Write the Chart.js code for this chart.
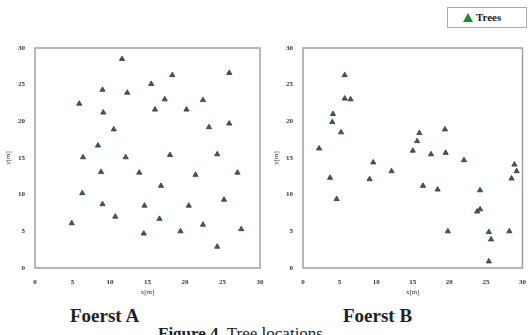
<!DOCTYPE html>
<html>
<head>
<meta charset="utf-8">
<script src="https://cdn.jsdelivr.net/npm/chart.js@4"></script>
<style>
  body { margin: 0; width: 528px; height: 335px; overflow: hidden; background: #fff; position: relative; font-family: "Liberation Serif", serif; }
  .box { position: absolute; }
  #legend { position: absolute; left: 447px; top: 7px; width: 78px; height: 19px; border: 1px solid #aaa; font-weight: bold; font-size: 11px; color: #222; line-height: 19px; }
  #legend .tri { display: inline-block; width: 0; height: 0; border-left: 5px solid transparent; border-right: 5px solid transparent; border-bottom: 9px solid #1f8a2e; margin: 0 3px 0 15px; vertical-align: -1px; }
  .title { position: absolute; font-weight: bold; font-size: 19px; color: #222; }
  #cap { position: absolute; left: 158px; top: 324px; font-size: 17px; color: #222; white-space: nowrap; }
</style>
</head>
<body>
<div id="legend"><span class="tri"></span>Trees</div>
<div class="box" style="left:0;top:40px;width:268px;height:260px"><canvas id="chartA"></canvas></div>
<div class="box" style="left:268px;top:40px;width:260px;height:260px"><canvas id="chartB"></canvas></div>
<div class="title" style="left:70px;top:305px">Foerst A</div>
<div class="title" style="left:343px;top:305px">Foerst B</div>
<div id="cap"><b>Figure 4.</b> Tree locations</div>
<script>
var ticksXY = [0, 5, 10, 15, 20, 25, 30];

var forestAX = [11.6, 18.3, 25.9, 15.5, 9.0, 12.3, 17.3, 22.4, 5.9, 16.0, 20.2, 9.1, 25.9, 23.2, 10.5, 8.4, 6.4, 12.1, 18.0, 24.3, 8.8, 13.9, 21.4, 27.0, 16.8, 6.3, 25.2, 9.0, 14.6, 20.5, 10.7, 16.6, 4.9, 22.4, 27.5, 19.4, 14.5, 24.3];
var forestAY = [28.5, 26.3, 26.6, 25.1, 24.3, 23.9, 23.0, 22.9, 22.4, 21.6, 21.6, 21.2, 19.7, 19.2, 18.9, 16.7, 15.1, 15.1, 15.4, 15.5, 13.1, 13.0, 12.7, 13.0, 11.2, 10.2, 9.3, 8.7, 8.5, 8.5, 7.0, 6.7, 6.1, 5.9, 5.3, 5.0, 4.7, 2.9];

var forestBX = [5.7, 5.7, 6.5, 4.1, 4.0, 5.2, 2.2, 15.9, 15.6, 15.0, 19.4, 19.5, 17.5, 22.0, 9.6, 12.1, 3.7, 9.1, 16.4, 18.4, 4.6, 24.2, 24.2, 23.8, 19.8, 25.4, 25.7, 25.4, 28.2, 28.5, 28.9, 29.2];
var forestBY = [26.3, 23.1, 23.0, 21.0, 19.9, 18.5, 16.3, 18.4, 17.3, 16.0, 18.9, 15.7, 15.5, 14.7, 14.4, 13.2, 12.3, 12.1, 11.2, 10.7, 9.4, 10.6, 8.0, 7.7, 5.0, 4.9, 3.9, 0.9, 5.0, 12.2, 14.1, 13.2];

var frame = {
    id: 'frame',
    afterDraw: function (c) {
        var a = c.chartArea, ctx = c.ctx;
        ctx.save();
        ctx.strokeStyle = '#a0a0a0';
        ctx.lineWidth = 1.5;
        ctx.strokeRect(a.left, a.top, a.right - a.left, a.bottom - a.top);
        ctx.restore();
    }
};

function makeChart(id, xs, ys, rightPad) {
    var pts = xs.map(function (x, i) { return { x: x, y: ys[i] }; });
    var tickFont = { family: 'Liberation Serif', size: 7, weight: 'bold' };
    return new Chart(document.getElementById(id), {
        type: 'scatter',
        data: {
            datasets: [{
                label: 'Trees',
                data: pts,
                pointStyle: 'triangle',
                pointRadius: 3,
                backgroundColor: '#40604a',
                borderColor: '#2b3d30',
                borderWidth: 0.8
            }]
        },
        options: {
            responsive: true,
            maintainAspectRatio: false,
            animation: false,
            layout: { padding: { left: 0, right: rightPad, top: 8, bottom: 0 } },
            plugins: { legend: { display: false }, tooltip: { enabled: false } },
            scales: {
                x: {
                    type: 'linear', min: 0, max: 30,
                    afterBuildTicks: function (s) { s.ticks = ticksXY.map(function (v) { return { value: v }; }); },
                    afterFit: function (s) { s.height = 32; },
                    grid: { display: false },
                    border: { display: false },
                    ticks: { font: tickFont, color: '#333', padding: 2, maxRotation: 0 },
                    title: { display: true, text: 'x[m]', font: { family: 'Liberation Serif', size: 7 }, color: '#333', padding: { top: 4 } }
                },
                y: {
                    type: 'linear', min: 0, max: 30,
                    afterBuildTicks: function (s) { s.ticks = ticksXY.map(function (v) { return { value: v }; }); },
                    afterFit: function (s) { s.width = 35; },
                    grid: { display: false },
                    border: { display: false },
                    ticks: { font: tickFont, color: '#333', padding: 2 },
                    title: { display: true, text: 'y[m]', font: { family: 'Liberation Serif', size: 7 }, color: '#333', padding: { bottom: 6 } }
                }
            }
        },
        plugins: [frame]
    });
}

makeChart('chartA', forestAX, forestAY, 8);
makeChart('chartB', forestBX, forestBY, 1);
</script>
</body>
</html>
